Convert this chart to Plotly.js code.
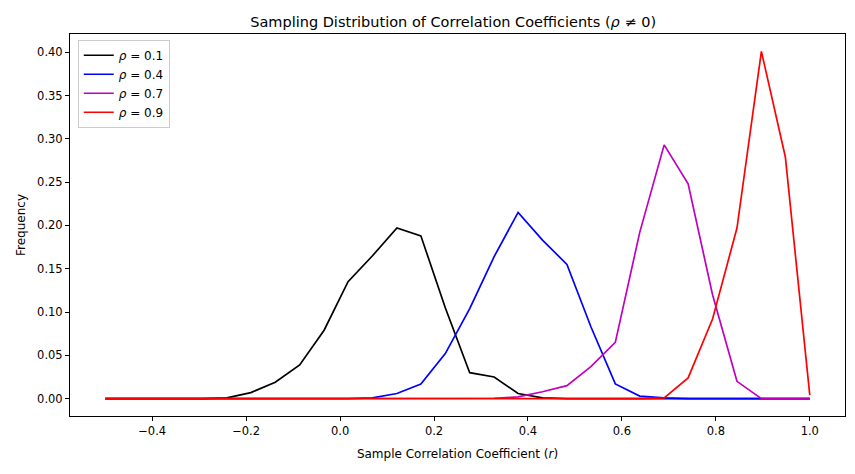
<!DOCTYPE html>
<html>
<head>
<script src="https://cdn.plot.ly/plotly-3.0.1.min.js"></script>
<style>body{margin:0}</style>
</head>
<body>
<div id="chart" style="width:855px;height:474px"></div>
<script>
var r = [-0.5, -0.448, -0.397, -0.345, -0.293, -0.241, -0.190, -0.138, -0.086, -0.034,
         0.017, 0.069, 0.121, 0.172, 0.224, 0.276, 0.328, 0.379, 0.431, 0.483,
         0.534, 0.586, 0.638, 0.690, 0.741, 0.793, 0.845, 0.897, 0.948, 1.0];

var rho01 = [0, 0, 0, 0, 0, 0.001, 0.007, 0.019, 0.039, 0.079,
             0.135, 0.165, 0.197, 0.188, 0.105, 0.030, 0.025, 0.006, 0.001, 0,
             0, 0, 0, 0, 0, 0, 0, 0, 0, 0];
var rho04 = [0, 0, 0, 0, 0, 0, 0, 0, 0, 0,
             0, 0.001, 0.006, 0.017, 0.052, 0.104, 0.164, 0.215, 0.183, 0.155,
             0.083, 0.017, 0.003, 0.001, 0, 0, 0, 0, 0, 0];
var rho07 = [0, 0, 0, 0, 0, 0, 0, 0, 0, 0,
             0, 0, 0, 0, 0, 0, 0.0005, 0.002, 0.008, 0.015,
             0.037, 0.065, 0.192, 0.293, 0.248, 0.120, 0.020, 0, 0, 0];
var rho09 = [0, 0, 0, 0, 0, 0, 0, 0, 0, 0,
             0, 0, 0, 0, 0, 0, 0, 0, 0, 0,
             0, 0, 0, 0.001, 0.024, 0.092, 0.197, 0.401, 0.279, 0.004];

var names = ['<i>\u03c1</i> = 0.1', '<i>\u03c1</i> = 0.4', '<i>\u03c1</i> = 0.7', '<i>\u03c1</i> = 0.9'];
var colors = ['black', 'blue', '#bf00bf', 'red'];
var series = [rho01, rho04, rho07, rho09];

var data = series.map(function(s, i) {
  return { x: r, y: s, type: 'scatter', mode: 'lines', name: names[i],
           line: { color: colors[i], width: 1.7 } };
});

var axis = {
  showgrid: false, zeroline: false, showline: true, mirror: true,
  linecolor: 'black', linewidth: 1, ticks: 'outside', ticklen: 4,
  tickcolor: 'black', tickfont: { size: 11.5 }
};

var layout = {
  width: 855, height: 474,
  margin: { l: 70, r: 10, t: 34, b: 58 },
  paper_bgcolor: 'white', plot_bgcolor: 'white',
  font: { family: 'DejaVu Sans', color: 'black', size: 12 },
  title: { text: 'Sampling Distribution of Correlation Coefficients (<i>\u03c1</i> \u2260 0)',
           font: { size: 14.5 }, x: 0.53, y: 0.965 },
  xaxis: Object.assign({}, axis, {
    range: [-0.575, 1.075], tickvals: [-0.4, -0.2, 0, 0.2, 0.4, 0.6, 0.8, 1.0],
    ticktext: ['\u22120.4', '\u22120.2', '0.0', '0.2', '0.4', '0.6', '0.8', '1.0'],
    title: { text: 'Sample Correlation Coefficient (<i>r</i>)', font: { size: 12 }, standoff: 12 }
  }),
  yaxis: Object.assign({}, axis, {
    range: [-0.02, 0.421], tickvals: [0, 0.05, 0.1, 0.15, 0.2, 0.25, 0.3, 0.35, 0.4],
    tickformat: '.2f',
    title: { text: 'Frequency', font: { size: 12 }, standoff: 8 }
  }),
  legend: { x: 0.01, y: 0.985, xanchor: 'left', yanchor: 'top',
            bordercolor: '#cccccc', borderwidth: 1, bgcolor: 'rgba(255,255,255,0.8)',
            font: { size: 12 } },
  showlegend: true
};

Plotly.newPlot('chart', data, layout, { displayModeBar: false });
</script>
</body>
</html>
